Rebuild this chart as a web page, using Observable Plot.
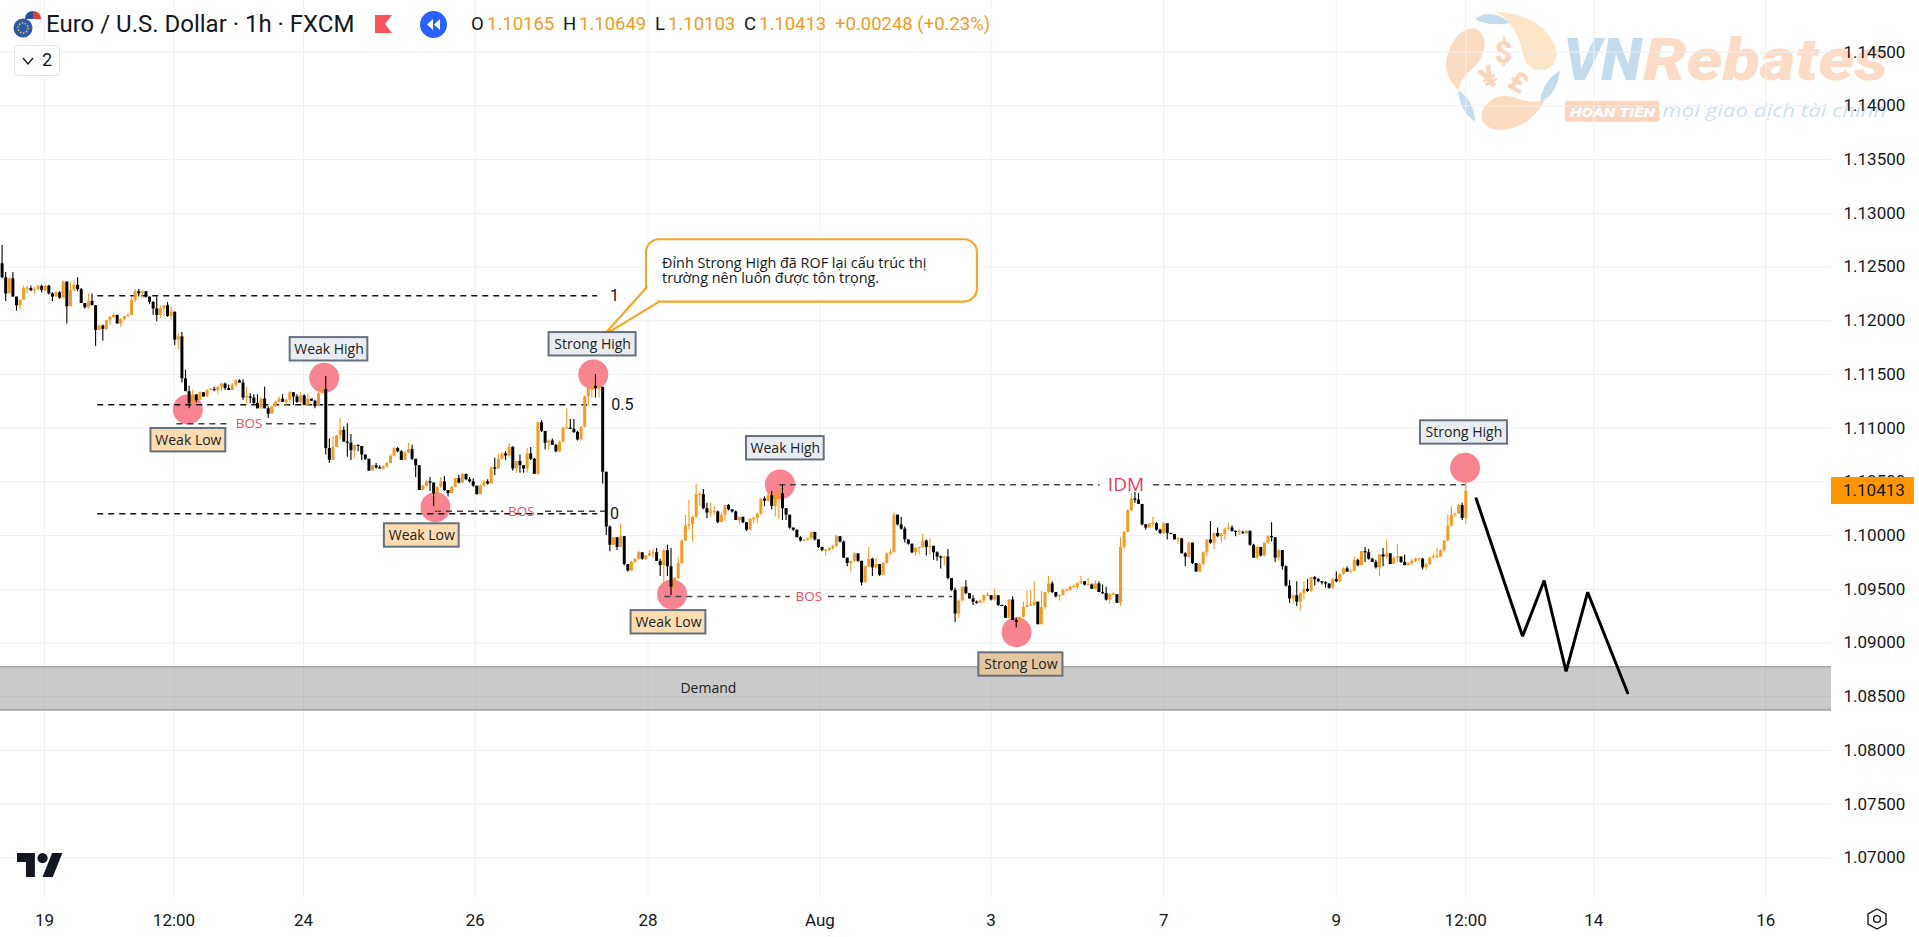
<!DOCTYPE html>
<html lang="vi">
<head>
<meta charset="utf-8">
<title>Euro / U.S. Dollar · 1h · FXCM</title>
<script src="https://cdn.jsdelivr.net/npm/d3@7"></script>
<script src="https://cdn.jsdelivr.net/npm/@observablehq/plot@0.6"></script>
<style>
html,body{margin:0;padding:0;background:#fff;width:1919px;height:937px;overflow:hidden}
#stage{position:relative;width:1919px;height:937px;font-family:Roboto,"Liberation Sans",sans-serif;color:#131722}
#stage>*{position:absolute}
#mark{left:1430px;top:0;z-index:0}
#chart{left:0;top:0;z-index:1}
#chart svg{background:transparent!important;display:block}
.h{z-index:2;white-space:nowrap;line-height:1}
.o{color:#f59a23}
</style>
</head>
<body>
<div id="stage">
<svg id="mark" width="480" height="140" viewBox="0 0 1440 420">
<path d="M135,58C160,35 205,35 240,70C200,75 165,75 135,58Z" fill="#c5dcee"/>
<path d="M190,35C300,35 380,100 380,165C380,200 340,220 310,205C270,190 285,130 240,70C225,50 205,40 190,35Z" fill="#fde6c8"/>
<path d="M130,85C165,90 175,140 150,180C130,210 95,225 85,270C60,250 48,215 48,200C50,140 85,85 130,85Z" fill="#fbdcc3"/>
<path d="M85,270C120,295 135,330 135,365C105,345 85,310 85,270Z" fill="#c5dcee"/>
<path d="M390,212C385,250 370,290 330,305C335,265 355,230 390,212Z" fill="#c5dcee"/>
<path d="M155,340C165,300 210,275 260,295C300,310 330,305 345,300C320,350 270,390 210,390C175,390 150,370 155,340Z" fill="#fbdcc3"/>
<g font-family="Roboto,sans-serif" font-weight="900" fill="#fbd5bd">
<text x="220" y="188" font-size="92" text-anchor="middle">$</text>
<text x="178" y="262" font-size="88" text-anchor="middle" transform="rotate(-30 178 235)">¥</text>
<text x="265" y="275" font-size="84" text-anchor="middle" transform="rotate(30 265 245)">£</text>
</g>
<g font-family="Roboto,sans-serif" font-weight="900" font-style="italic" font-size="176">
<text x="400" y="240" fill="#c5dcef" textLength="235" lengthAdjust="spacingAndGlyphs">VN</text>
<text x="640" y="240" fill="#fddcc7" textLength="735" lengthAdjust="spacingAndGlyphs">Rebates</text>
</g>
<rect x="405" y="302" width="283" height="63" rx="8" fill="#fbd5bd"/>
<text x="420" y="352" font-family="Roboto,sans-serif" font-weight="900" font-style="italic" font-size="40" fill="#fff" textLength="255" lengthAdjust="spacingAndGlyphs">HOÀN TIỀN</text>
<text x="697" y="350" font-family="'Open Sans',sans-serif" font-style="italic" font-size="54" fill="#cfe1f1" textLength="672" lengthAdjust="spacingAndGlyphs">mọi giao dịch tài chính</text>
</svg>
<div id="chart"></div>

<svg class="h" style="left:10px;top:8px" width="34" height="34" viewBox="0 0 34 34">
<circle cx="23" cy="11" r="8" fill="#fff" stroke="#e8e8e8"/>
<path d="M23,3A8,8 0 0 1 31,11H23Z" fill="#e23b3b"/><path d="M15,11A8,8 0 0 1 23,3V11Z" fill="#2a4f9e"/>
<circle cx="13" cy="20" r="9.5" fill="#2a5aa8"/>
<circle cx="13" cy="20" r="5" fill="none" stroke="#f5d33f" stroke-width="1.4" stroke-dasharray="1.5 1.6"/>
</svg>
<div class="h" id="title" style="left:46px;top:12px;font-size:24px;color:#131722">Euro / U.S. Dollar · 1h · FXCM</div>
<svg class="h" style="left:375px;top:15px" width="18" height="18"><path d="M0,0H17L10,9L17,18H0Z" fill="#f7525f"/></svg>
<svg class="h" style="left:420px;top:11px" width="27" height="27"><circle cx="13.5" cy="13.5" r="13.5" fill="#2962ff"/><path d="M13,8V19L7,13.5ZM20,8V19L14,13.5Z" fill="#fff"/></svg>
<div class="h" style="left:471px;top:15px;font-size:18.5px">O</div><div class="h o" style="left:487px;top:15px;font-size:18.5px">1.10165</div>
<div class="h" style="left:563px;top:15px;font-size:18.5px">H</div><div class="h o" style="left:579px;top:15px;font-size:18.5px">1.10649</div>
<div class="h" style="left:655px;top:15px;font-size:18.5px">L</div><div class="h o" style="left:668px;top:15px;font-size:18.5px">1.10103</div>
<div class="h" style="left:744px;top:15px;font-size:18.5px">C</div><div class="h o" style="left:759px;top:15px;font-size:18.5px">1.10413</div>
<div class="h o" style="left:835px;top:15px;font-size:18.5px">+0.00248 (+0.23%)</div>

<div class="h" style="left:14px;top:45px;width:44px;height:29px;border:1px solid #e0e3eb;border-radius:4px;background:#fff;box-sizing:content-box"></div>
<svg class="h" style="left:22px;top:56px" width="14" height="10"><path d="M1,2L6,8L11,2" fill="none" stroke="#131722" stroke-width="1.4"/></svg>
<div class="h" style="left:42px;top:51px;font-size:18px">2</div>

<svg class="h" style="left:17px;top:853px" width="46" height="24" viewBox="0 0 36 18.6"><path d="M14 18.6H7V7H0V0h14zM28 18.6h-8L27.5 0h8z" fill="#131722"/><circle cx="20" cy="4" r="4" fill="#131722"/></svg>
<svg class="h" style="left:1865px;top:907px" width="24" height="24"><path d="M12,2L21,7V17L12,22L3,17V7Z" fill="none" stroke="#131722" stroke-width="1.4"/><circle cx="12" cy="12" r="3.4" fill="none" stroke="#131722" stroke-width="1.4"/></svg>

<div class="h" style="left:1831px;top:477px;width:83px;height:27px;background:#ff9800;font-size:17px;line-height:27px;text-indent:12px;color:#131722" id="tag">1.10413</div>
</div>

<script>
// Candles, in pips of EUR/USD (1 pip = 0.0001), hour by hour. Each body opens at the previous close.
const firstOpen = 11253;
const closes = [
11240,11225,11239,11222,11214,11219,11230,11230,11228,11229,
11232,11228,11232,11225,11222,11226,11221,11236,11213,11228,
11233,11229,11216,11212,11218,11214,11191,11195,11192,11200,
11203,11205,11197,11201,11204,11205,11219,11227,11225,11227,
11222,11217,11211,11205,11211,11214,11204,11208,11182,11185,
11146,11134,11123,11131,11126,11133,11129,11135,11136,11135,
11138,11141,11137,11135,11140,11144,11142,11128,11129,11128,
11123,11118,11127,11118,11113,11120,11124,11127,11124,11126,
11133,11129,11124,
11130,11121,11127,11125,11120,11132,11136,11081,11070,11082,
11093,11098,11087,11086,11079,11084,11083,11075,11071,11060,
11065,11063,11062,11064,11067,11074,11081,11078,11070,11077,
11080,11071,11065,11042,11046,11050,11049,11039,11045,11050,
11042,11039,11045,11053,11049,11057,11052,11050,11046,11038,
11046,11050,11048,11063,11062,11071,11076,11074,11082,11062,
11069,11065,11062,11076,11071,11057,11105,11097,11086,11088,
11084,11078,11087,11100,11100,11099,11096,11089,11101,11129,
11137,11139,11137,11138,11059,
11008,10991,10998,10989,10999,10973,10967,10975,10978,10984,
10978,10981,10983,10984,10976,10972,10986,10971,10952,10960,
10974,10995,11009,11010,11017,11038,11038,11025,11021,11022,
11022,11012,11019,11028,11024,11022,11014,11017,11012,11005,
11015,11016,11020,11034,11032,11037,11027,11038,11039,11025,
11019,11007,11005,10998,10995,10996,10997,11003,10996,10989,
10986,10986,10988,10990,10999,10994,10979,10974,10976,10983,
10976,10956,10971,10978,10970,10973,10963,10974,10983,10984,
11019,11010,
11006,10996,10992,10984,10988,10989,10995,10989,10990,10984,
10980,10979,10980,10960,10949,10927,10939,10952,10946,10941,
10938,10937,10939,10944,10944,10940,10944,10935,10934,10923,
10940,10921,10919,10924,10933,10935,10935,10938,10917,10933,
10947,10955,10947,10943,10944,10949,10949,10952,10952,10955,
10957,10954,10954,10950,10955,10947,10946,10940,10945,10945,
10937,10989,11003,11023,11034,11033,11029,11010,11007,11011,
11011,11005,11002,11011,11002,11001,10996,10997,10983,10980,
10993,10974,10966,
10973,10984,10996,10993,11002,10999,11001,11006,11007,11004,
11003,11003,11002,11004,10991,10979,10989,10981,10993,10999,
10998,10979,10986,10971,10953,10941,10944,10938,10946,10950,
10948,10961,10959,10957,10956,10955,10951,10959,10957,10964,
10969,10966,10967,10977,10972,10985,10984,10978,10975,10970,
10982,10980,10983,10973,10979,10980,10975,10972,10974,10976,
10978,10978,10970,10973,10979,10980,10980,10986,10995,11009,
11019,11020,11028,11016,11041.3];
const highs = [
11270,11245,11240,11245,11222,11220,11232,11232,11232,11231,
11233,11233,11233,11233,11226,11227,11227,11237,11236,11236,
11237,11240,11230,11216,11225,11225,11214,11196,11196,11200,
11204,11206,11205,11202,11204,11206,11222,11229,11229,11228,
11227,11222,11218,11222,11214,11214,11217,11213,11208,11188,
11189,11154,11139,11135,11131,11134,11133,11136,11137,11138,
11139,11142,11142,11140,11141,11145,11145,11145,11138,11132,
11131,11131,11128,11138,11120,11120,11125,11129,11131,11127,
11134,11133,11131,
11133,11131,11132,11127,11126,11133,11139,11148,11090,11092,
11093,11109,11101,11104,11094,11084,11084,11083,11075,11071,
11065,11067,11065,11065,11068,11075,11082,11082,11079,11078,
11086,11084,11071,11065,11047,11051,11054,11049,11045,11054,
11055,11042,11046,11053,11056,11058,11057,11054,11053,11046,
11047,11051,11052,11064,11072,11076,11077,11078,11086,11083,
11069,11075,11065,11081,11082,11072,11106,11107,11097,11089,
11090,11085,11088,11101,11118,11108,11108,11097,11101,11130,
11138,11145,11150,11139,11138,
11059,11009,10998,10998,11011,10999,10973,10976,10978,10985,
10984,10981,10986,10987,10988,10978,10987,10991,10988,10961,
10979,10996,11019,11033,11018,11048,11040,11043,11030,11030,
11027,11023,11021,11028,11029,11024,11023,11017,11017,11012,
11016,11017,11021,11034,11036,11041,11041,11038,11047,11047,
11025,11019,11007,11005,10999,10996,10998,11003,11002,10996,
10989,10987,10989,10991,11000,10999,10995,10979,10976,10984,
10983,10976,10972,10989,10979,10979,10973,10975,10984,10987,
11021,11019,
11017,11008,10996,10992,10989,10989,11001,10996,10997,10990,
10985,10981,10981,10987,10960,10951,10940,10952,10958,10946,
10944,10939,10940,10945,10947,10944,10950,10944,10935,10935,
10940,10943,10923,10924,10938,10948,10949,10957,10938,10948,
10947,10962,10957,10947,10945,10950,10950,10953,10954,10956,
10962,10957,10960,10955,10958,10957,10954,10952,10946,10947,
10945,10998,11004,11024,11039,11040,11039,11029,11010,11011,
11017,11012,11006,11012,11011,11002,11001,10998,10997,10984,
10994,10993,10974,
10974,10985,10996,11013,11002,11007,11002,11007,11011,11009,
11004,11006,11004,11004,11004,10992,10990,10989,10993,11000,
11012,10998,10987,10986,10972,10958,10945,10957,10947,10957,
10959,10961,10962,10960,10957,10957,10955,10960,10966,10964,
10970,10971,10968,10980,10978,10985,10989,10987,10979,10977,
10982,10988,10996,10983,10980,10992,10980,10982,10975,10978,
10979,10979,10979,10974,10980,10983,10988,10987,10995,11019,
11027,11021,11029,11030,11064.9];
const lows = [
11239,11218,11226,11222,11209,11210,11219,11225,11227,11225,
11228,11226,11227,11224,11218,11222,11220,11221,11197,11213,
11227,11227,11216,11211,11211,11214,11176,11191,11181,11191,
11196,11202,11197,11194,11200,11203,11205,11217,11222,11221,
11221,11215,11205,11199,11202,11204,11203,11200,11177,11173,
11142,11134,11118,11123,11124,11126,11129,11129,11135,11134,
11131,11134,11135,11135,11135,11138,11142,11126,11123,11123,
11122,11118,11118,11118,11109,11113,11119,11124,11124,11120,
11123,11121,11123,
11123,11121,11121,11125,11118,11120,11132,11075,11067,11070,
11082,11089,11087,11073,11070,11072,11078,11070,11070,11060,
11060,11062,11062,11061,11063,11067,11073,11077,11070,11070,
11076,11070,11054,11042,11042,11045,11041,11027,11022,11044,
11041,11036,11039,11045,11048,11048,11051,11049,11045,11038,
11038,11045,11047,11048,11056,11062,11070,11070,11073,11060,
11058,11058,11058,11058,11070,11057,11057,11096,11080,11080,
11084,11077,11077,11087,11099,11099,11095,11088,11089,11100,
11121,11128,11128,11128,11048,
11000,10985,10991,10986,10989,10972,10966,10967,10974,10977,
10977,10977,10980,10979,10976,10962,10951,10962,10944,10949,
10959,10973,10994,11005,10994,11016,11027,11024,11016,11017,
11019,11011,11014,11013,11023,11021,11014,11010,11011,11004,
11005,11011,11011,11019,11027,11031,11024,11017,11015,11014,
11014,11006,11004,10998,10994,10994,10995,10996,10995,10988,
10985,10981,10985,10986,10989,10993,10979,10971,10966,10975,
10975,10953,10956,10970,10962,10969,10962,10963,10973,10981,
10984,11009,
11005,10993,10991,10983,10981,10982,10988,10981,10982,10977,
10976,10969,10972,10959,10948,10919,10923,10939,10945,10941,
10935,10936,10937,10937,10943,10939,10939,10934,10934,10923,
10923,10921,10914,10918,10923,10933,10934,10934,10917,10917,
10931,10946,10946,10942,10939,10944,10948,10948,10951,10950,
10955,10953,10953,10950,10950,10947,10945,10939,10936,10944,
10937,10934,10987,11003,11022,11030,11029,11009,11005,11007,
11007,11004,11001,11001,10996,11001,10996,10992,10983,10971,
10979,10973,10966,
10966,10972,10980,10992,10987,10998,10993,10996,11005,11003,
10999,11000,11001,11001,10990,10979,10978,10980,10980,10992,
10994,10975,10976,10968,10952,10937,10936,10934,10930,10940,
10947,10947,10953,10956,10954,10951,10950,10950,10956,10956,
10963,10966,10965,10966,10971,10972,10975,10977,10975,10969,
10962,10971,10978,10973,10973,10975,10974,10972,10972,10972,
10975,10976,10968,10968,10972,10978,10979,10980,10984,10994,
11008,11017,11020,11014,11010.3];

// Value axis and time axis
const priceTicks = [10700,10750,10800,10850,10900,10950,11000,11050,11100,11150,11200,11250,11300,11350,11400,11450];
const timeTicks = [11.8,47.8,83.8,131.6,179.6,227.4,275.0,323.0,371.0,407,442.6,490.4];
const timeLabels = ["19","12:00","24","26","28","Aug","3","7","9","12:00","14","16"];

// Demand zone
const demandZone = {top: 10877.9, bottom: 10837.8, label: "Demand", labelBar: 196.4};

// Pivot markers (bar, price)
const pivotBars = [51.64,89.57,164.4,120.5,186.3,216.3,282.1,406.8];
const pivotPrices = [11117.4,11146.9,11150,11026.4,10945.2,11047.6,10910.1,11063.1];

// Swing labels
const swingTexts = ["Weak Low","Weak High","Strong High","Weak High","Weak Low","Weak Low","Strong Low","Strong High"];
const swingBars = [51.8,90.9,164.2,217.8,116.7,185.3,283.3,406.5];
const swingPrices = [11088.8,11173.4,11178.1,11081.3,11000.1,10919.3,10880,11096];
const swingHalf = {"Weak Low":10.4,"Weak High":10.8,"Strong High":12.1,"Strong Low":11.7};
const swingFill = {"Weak Low":"#fddcb2","Weak High":"#e9edf2","Strong High":"#e9edf2","Strong Low":"#e2c69f"};

// Fibonacci levels of the leg into the Strong High
const fibLevels = [1,0.5,0];
const fibPrices = [11223.2,11121.8,11020.3];
const fibLabelBars = [170.3,172.5,170.3];
const fibFrom = 26.6, fibTo = 165.6;

// Structure lines with their captions (each is split by its caption)
const structNames = ["BOS","BOS","BOS","IDM"];
const structPrices = [11104.1,11022.7,10943.3,11047.3];
const structLeftA = [48.6,120.5,184.3,216.2];
const structLeftB = [62.6,139.5,219.2,305.3];
const structRightA = [73.5,151.1,229.8,320.2];
const structRightB = [88.6,168.1,264.3,407];
const structLabelBars = [68.7,144.4,224.3,312.5];

// Hand-drawn projection
const pathBars = [409.9,422.8,428.8,434.9,440.9,452];
const pathPrices = [11034.3,10906.3,10958.2,10873.5,10947.3,10853.7];

// Callout
const calloutLines = ["Đỉnh Strong High đã ROF lại cấu trúc thị","trường nên luôn được tôn trọng."];
const calloutLinePrices = [11253,11239.3];
const calloutTextBar = 183.5;
const calloutBox = {x1:179.2,x2:271.2,y1:11275.4,y2:11217.3};
const calloutTailBars = [179.2,167.2,182.5];
const calloutTailPrices = [11231,11186.3,11217.3];

if (closes.length !== highs.length || closes.length !== lows.length) throw new Error(`lengths ${closes.length} ${highs.length} ${lows.length}`);

const UP = "#f59a23", DOWN = "#000000";
const bars = closes.map((c,i)=>{
  const o = i ? closes[i-1] : firstOpen;
  const lo = Math.min(o,c), hi = Math.max(o,c);
  const mid = (lo+hi)/2, half = Math.max((hi-lo)/2,0.6);
  return {i,c,o,h:highs[i],l:lows[i],b1:mid-half,b2:mid+half,up:c>=o};
});
const upBars = bars.filter(d=>d.up), downBars = bars.filter(d=>!d.up);
const swings = swingTexts.map((t,k)=>({t,x:swingBars[k],y:swingPrices[k],h:swingHalf[t],f:swingFill[t]}));
const structs = structNames.map((n,k)=>({n,y:structPrices[k],a:structLeftA[k],b:structLeftB[k],c:structRightA[k],d:structRightB[k],m:structLabelBars[k]}));
const fibs = fibLevels.map((l,k)=>({l,y:fibPrices[k],x:fibLabelBars[k]}));
const pivots = pivotBars.map((x,k)=>({x,y:pivotPrices[k]}));
const path = pathBars.map((x,k)=>({x,y:pathPrices[k]}));
const tail = calloutTailBars.map((x,k)=>({x,y:calloutTailPrices[k]}));
const calloutRows = calloutLines.map((t,k)=>({t,y:calloutLinePrices[k]}));

const FONT = "Roboto, 'Liberation Sans', sans-serif";
const LABEL_FONT = "'Open Sans', 'Noto Sans', sans-serif";
const xDomain = [-0.445, 508.7], yDomain = [10663.1, 11498.1];

const chart = Plot.plot({
  width:1919, height:937, marginLeft:0, marginRight:88, marginTop:0, marginBottom:40,
  style:{background:"transparent", fontFamily:FONT},
  x:{domain:xDomain, axis:null},
  y:{domain:yDomain, axis:null},
  marks:[
    Plot.ruleX(timeTicks,{x:d=>d,y1:yDomain[0],y2:yDomain[1],stroke:"#f0f1f4",strokeWidth:1}),
    Plot.ruleY(priceTicks,{y:d=>d,x1:xDomain[0],x2:xDomain[1],stroke:"#eceef1",strokeWidth:1}),
    Plot.axisY({anchor:"right",ticks:priceTicks,tickFormat:d=>(d/1e4).toFixed(5),tickSize:0,tickPadding:12,label:null,fontSize:17,fontFamily:FONT,fill:"#131722"}),
    Plot.axisX({anchor:"bottom",ticks:timeTicks,tickFormat:d=>timeLabels[timeTicks.indexOf(d)],tickSize:0,tickPadding:16,label:null,fontSize:17,fontFamily:FONT,fill:"#131722"}),
    // Demand
    Plot.rect([demandZone],{x1:xDomain[0],x2:xDomain[1],y1:"bottom",y2:"top",fill:"#808080",fillOpacity:0.42}),
    Plot.ruleY([demandZone.top,demandZone.bottom],{x1:xDomain[0],x2:xDomain[1],stroke:"#a4a4a4",strokeWidth:1.6}),
    Plot.text([demandZone],{x:"labelBar",y:d=>(d.top+d.bottom)/2,text:"label",fontSize:14,fontFamily:LABEL_FONT,fill:"#222"}),
    // Pivot circles
    Plot.dot(pivots,{x:"x",y:"y",r:15,fill:"#f78490"}),
    // Levels
    Plot.ruleY(fibs,{y:"y",x1:fibFrom,x2:fibTo,stroke:"#111",strokeWidth:1.4,strokeDasharray:"6,5"}),
    Plot.ruleY(structs,{y:"y",x1:"a",x2:"b",stroke:"#444",strokeWidth:1.4,strokeDasharray:"6,5"}),
    Plot.ruleY(structs,{y:"y",x1:"c",x2:"d",stroke:"#444",strokeWidth:1.4,strokeDasharray:"6,5"}),
    // Candles
    Plot.ruleX(upBars,{x:"i",y1:"l",y2:"h",stroke:UP,strokeWidth:1.1}),
    Plot.ruleX(upBars,{x:"i",y1:"b1",y2:"b2",stroke:UP,strokeWidth:3}),
    Plot.ruleX(downBars,{x:"i",y1:"l",y2:"h",stroke:DOWN,strokeWidth:1.1}),
    Plot.ruleX(downBars,{x:"i",y1:"b1",y2:"b2",stroke:DOWN,strokeWidth:3}),
    // Captions
    Plot.text(fibs,{x:"x",y:"y",text:d=>String(d.l),fontSize:16,fontFamily:FONT,fill:"#131722"}),
    Plot.text(structs.filter(d=>d.n==="BOS"),{x:"m",y:"y",text:"n",fontSize:13.5,fontFamily:LABEL_FONT,fill:"#e8506a"}),
    Plot.text(structs.filter(d=>d.n==="IDM"),{x:"m",y:"y",text:"n",fontSize:19,fontFamily:LABEL_FONT,fill:"#e8405c"}),
    // Projection
    Plot.line(path,{x:"x",y:"y",stroke:"#000",strokeWidth:3,curve:"linear",strokeLinejoin:"miter"}),
    // Callout
    Plot.rect([calloutBox],{x1:"x1",x2:"x2",y1:"y1",y2:"y2",fill:"#fff",stroke:"#f7a728",strokeWidth:2.2,rx:13}),
    Plot.line(tail,{x:"x",y:"y",fill:"#fff",stroke:"#f7a728",strokeWidth:2.2}),
    Plot.text(calloutRows,{x:calloutTextBar,y:"y",text:"t",textAnchor:"start",fontSize:14.4,fontFamily:LABEL_FONT,fill:"#131722"}),
    // Swing labels
    Plot.rect(swings,{x1:d=>d.x-d.h,x2:d=>d.x+d.h,y1:d=>d.y-10.9,y2:d=>d.y+10.9,fill:d=>d.f,stroke:"#66717f",strokeWidth:2}),
    Plot.text(swings,{x:"x",y:"y",text:"t",fontSize:14,fontFamily:LABEL_FONT,fill:"#222"})
  ]
});
document.getElementById("chart").appendChild(chart);
</script>
</body>
</html>
